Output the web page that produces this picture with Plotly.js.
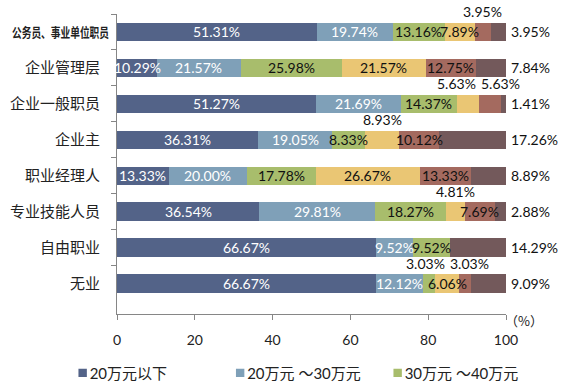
<!DOCTYPE html>
<html><head><meta charset="utf-8">
<script src="https://cdn.plot.ly/plotly-3.0.1.min.js"></script>
<style>html,body{margin:0;padding:0;background:#fff}#chart{width:565px;height:385px}</style>
</head><body><div id="chart"></div>
<script>
const categories = ['公务员、事业单位职员','企业管理层','企业一般职员','企业主','职业经理人','专业技能人员','自由职业','无业'];
const seriesNames = ['20万元以下','20万元 ～30万元','30万元 ～40万元','40万元 ～50万元','50万元 ～100万元','100万元以上'];
const s1 = [51.31,10.29,51.27,36.31,13.33,36.54,66.67,66.67];
const s2 = [19.74,21.57,21.69,19.05,20.00,29.81,9.52,12.12];
const s3 = [13.16,25.98,14.37,8.33,17.78,18.27,9.52,3.03];
const s4 = [7.89,21.57,5.63,8.93,26.67,4.81,0,6.06];
const s5 = [3.95,12.75,5.63,10.12,13.33,7.69,0,3.03];
const s6 = [3.95,7.84,1.41,17.26,8.89,2.88,14.29,9.09];
const xTicks = [0,20,40,60,80,100];
// label placement per row/segment: i = inside, a = above, r = right of bar
const placement = [
  ['i','i','i','i','a','r'],
  ['i','i','i','i','i','r'],
  ['i','i','i','a','a','r'],
  ['i','i','i','a','i','r'],
  ['i','i','i','i','i','r'],
  ['i','i','i','a','i','r'],
  ['i','i','i','a','a','r'],
  ['i','i','a','i','a','r']
];
const series = [s1,s2,s3,s4,s5,s6];
const colors = ['#536388','#7FA0B8','#A8BD6C','#EAC674','#A46A5F','#73595B'];
const labelColors = ['#ffffff','#ffffff','#111111','#111111','#111111','#111111'];

const traces = series.map((vals,k)=>({
  type:'bar', orientation:'h', name:seriesNames[k],
  x:vals, y:categories,
  marker:{color:colors[k], line:{width:0}},
  showlegend:k<3, hoverinfo:'skip'
}));

const numFont = 'Lato, "Noto Sans CJK SC", sans-serif';
const annotations = [];
categories.forEach((cat,r)=>{
  let cum = 0;
  const above = [];
  series.forEach((vals,k)=>{
    const v = vals[r];
    const mid = cum + v/2;
    cum += v;
    if(!v) return;
    const p = placement[r][k];
    const txt = v.toFixed(2)+'%';
    if(p==='i'){
      annotations.push({x:mid,y:cat,xref:'x',yref:'y',text:txt,showarrow:false,
        font:{family:numFont,size:14,color:labelColors[k]}});
    } else if(p==='a'){
      above.push({x:mid,y:cat,xref:'x',yref:'y',text:txt,showarrow:false,yshift:20,xshift:0,
        font:{family:numFont,size:14,color:'#111'}});
    } else if(p==='r'){
      annotations.push({x:100,y:cat,xref:'x',yref:'y',text:txt,showarrow:false,xanchor:'left',xshift:3,
        font:{family:numFont,size:14,color:'#111'}});
    }
  });
  if(above.length===2){
    const pxPerUnit = 389/100;
    const d = (above[1].x-above[0].x)*pxPerUnit;
    const minD = 44;
    if(d<minD){ above[0].xshift = -(minD-d)/2; above[1].xshift = (minD-d)/2; }
  }
  above.forEach(a=>annotations.push(a));
});
annotations.push({xref:'paper',yref:'paper',x:1,y:0,xanchor:'left',yanchor:'top',xshift:-3,yshift:5,
  text:'（%）',showarrow:false,font:{family:'"Noto Sans CJK SC", sans-serif',size:13,color:'#222'}});

const layout = {
  width:565,height:385,
  margin:{l:117,r:59,t:14,b:71,autoexpand:false},
  paper_bgcolor:'#ffffff',plot_bgcolor:'#ffffff',
  barmode:'stack',bargap:0.49,
  showlegend:true,
  legend:{orientation:'h',x:-0.1397,xanchor:'left',y:-0.197,yanchor:'middle',
    font:{family:'Lato, "Noto Sans CJK SC", sans-serif',size:15,color:'#222'},
    entrywidth:112.5,entrywidthmode:'pixels',itemwidth:30,traceorder:'normal'},
  xaxis:{range:[0,100],tickvals:xTicks,ticktext:xTicks.map(String),showline:true,linecolor:'#868686',linewidth:1,
    ticks:'outside',ticklen:5,tickcolor:'#868686',showgrid:false,zeroline:false,automargin:false,
    tickfont:{family:numFont,size:14,color:'#222'},ticklabelstandoff:8,fixedrange:true},
  yaxis:{type:'category',autorange:'reversed',showline:true,linecolor:'#868686',linewidth:1,automargin:false,
    ticks:'outside',tickson:'boundaries',ticklen:5,tickcolor:'#868686',showgrid:false,
    tickfont:{family:'"Noto Sans CJK SC", sans-serif',size:15,color:'#222'},ticklabelstandoff:13,fixedrange:true},
  annotations:annotations
};
Plotly.newPlot('chart',traces,layout,{displayModeBar:false,staticPlot:true}).then(()=>{
  document.querySelectorAll('.ytick text').forEach(t=>{
    if(t.textContent===categories[0]){
      t.style.fontWeight='bold';
      t.style.fontSize='13px';
      t.setAttribute('textLength','97');
      t.setAttribute('lengthAdjust','spacingAndGlyphs');
      t.setAttribute('dx','9');
    }
  });
  document.querySelectorAll('.legendtext').forEach(t=>{ t.setAttribute('x','27'); });
  document.querySelectorAll('.legendpoints path').forEach(p=>{
    const b = p.getBBox();
    const cx = b.x + b.width/2, cy = b.y + b.height/2;
    const old = p.getAttribute('transform') || '';
    p.setAttribute('transform', old + ' translate(' + cx + ',' + cy + ') scale(0.7) translate(' + (-cx) + ',' + (-cy) + ')');
  });
});
</script></body></html>
